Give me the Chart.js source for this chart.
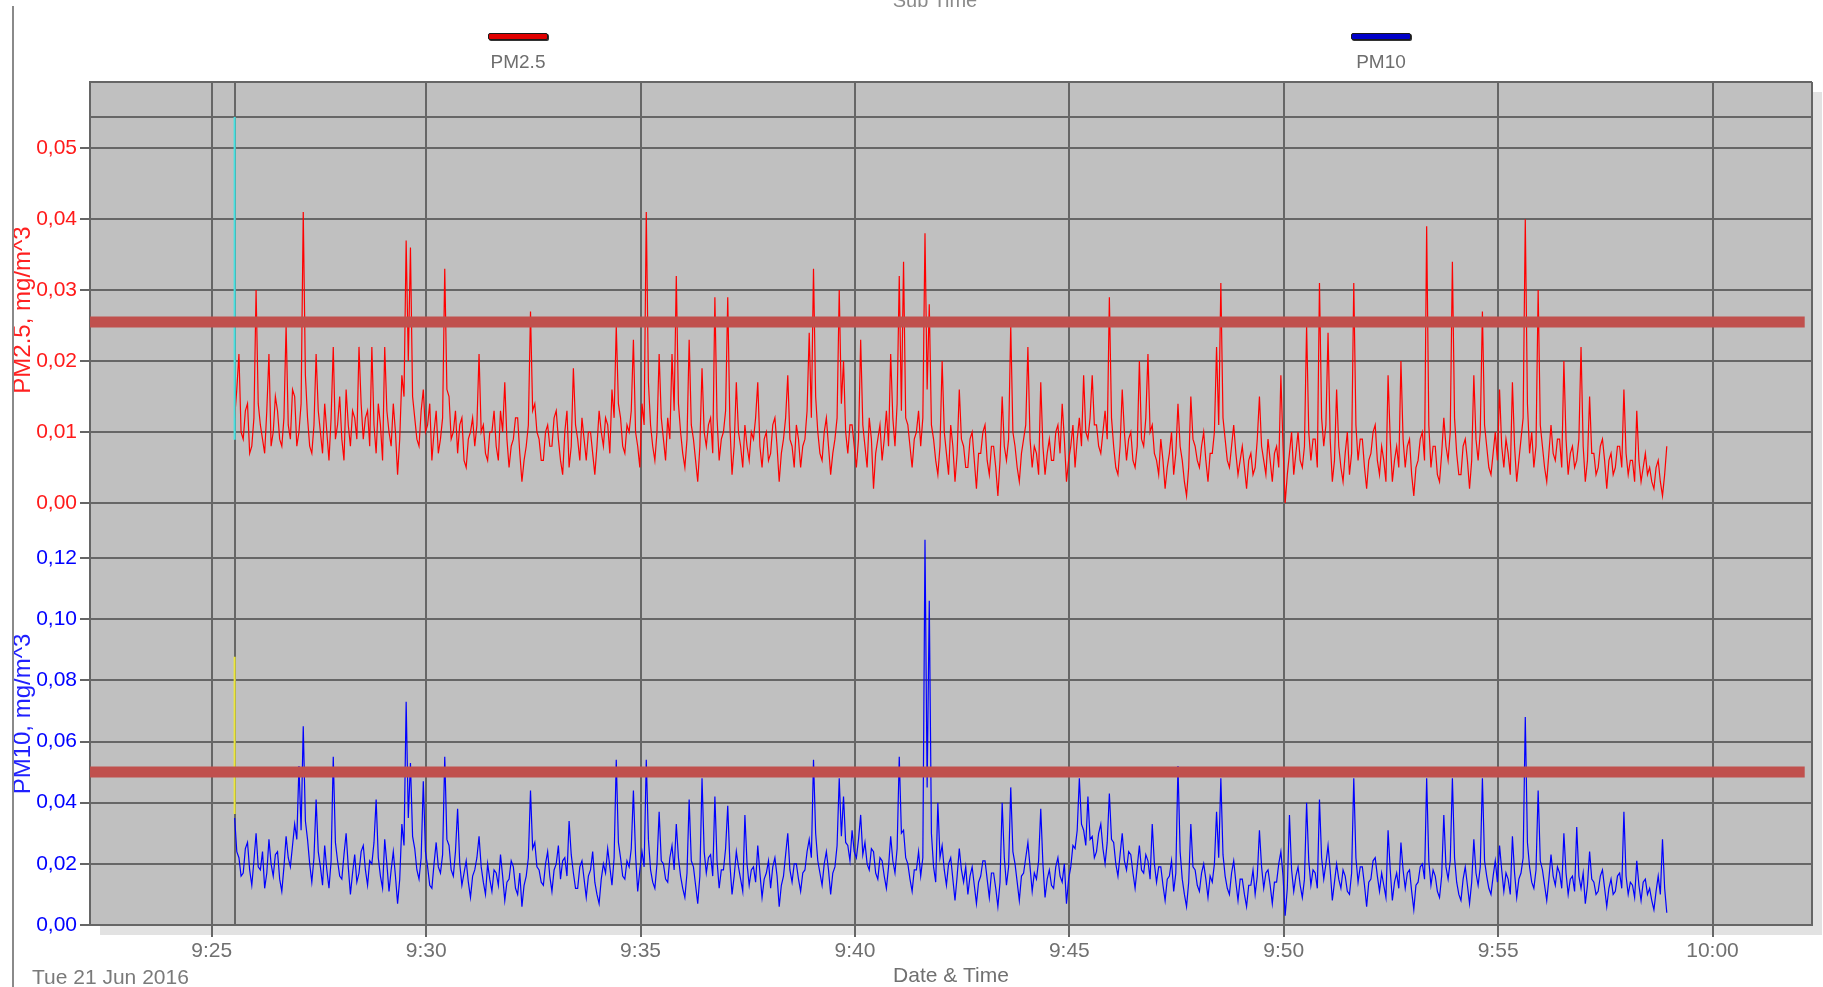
<!DOCTYPE html>
<html>
<head>
<meta charset="utf-8">
<title>PM2.5 / PM10</title>
<script src="https://cdn.jsdelivr.net/npm/chart.js@4.4.1/dist/chart.umd.min.js"></script>
<style>
  body { margin: 0; background: #fff; font-family: "Liberation Sans", Arial, sans-serif; }
  #wrap { position: relative; width: 1823px; height: 987px; overflow: hidden; }
  #frameLine { position: absolute; left: 12px; top: 6px; bottom: 0; width: 2px; background: #8a8a8a; }
  #subTitle { position: absolute; left: 880px; width: 110px; top: -11px; text-align: center; font-size: 20px; color: #8a8a8a; }
  .legItem { position: absolute; top: 33px; width: 90px; text-align: center; }
  .legLine { width: 58px; height: 5px; margin: 0 auto; border: 1px solid #1a1a1a; border-radius: 2px; box-shadow: 1px 1px 0 #333; }
  .legText { margin-top: 11px; font-size: 19px; color: #6e6e6e; }
  #dateText { position: absolute; left: 32px; top: 966px; font-size: 21px; line-height: 21px; color: #7a7a7a; }
  canvas { position: absolute; left: 0; top: 0; }
</style>
</head>
<body>
<div id="wrap">
  <canvas id="pmChart" width="1823" height="987"></canvas>
  <div id="frameLine"></div>
  <div id="subTitle">Sub Time</div>
  <div class="legItem" style="left:473px"><div class="legLine" style="background:#e00000"></div><div class="legText">PM2.5</div></div>
  <div class="legItem" style="left:1336px"><div class="legLine" style="background:#0000c8"></div><div class="legText">PM10</div></div>
  <div id="dateText">Tue 21 Jun 2016</div>
</div>
<script>
// minutes of the day, 9:25 = 565
var START_MIN = 565 + 32 / 60;   // first sample 9:25:32
var STEP_MIN = 0.05;             // one sample every 3 s
var X_MIN = 562.16, X_MAX = 602.32;
var X_TICKS = [565, 570, 575, 580, 585, 590, 595, 600];

var LIMIT_PM25 = 0.0255;
var LIMIT_PM10 = 0.05;
var LIMIT_END = 602.15;

// short coloured strokes at the first sample
var START_PM25 = [0.0544, 0.0089];
var START_PM10 = [0.0877, 0.0363];

// mg/m^3
var PM25 = [
  0.012,0.016, 0.021,0.010, 0.009,0.013, 0.014,0.007, 0.008,0.012, 0.030,0.014, 0.011,0.009, 0.007,0.013, 0.021,0.008, 0.010,0.015,
  0.013,0.009, 0.008,0.012, 0.025,0.011, 0.009,0.016, 0.015,0.008, 0.010,0.014, 0.041,0.018, 0.012,0.008, 0.007,0.011, 0.021,0.013,
  0.010,0.007, 0.014,0.010, 0.006,0.012, 0.022,0.009, 0.011,0.015, 0.009,0.006, 0.016,0.011, 0.008,0.013, 0.012,0.009, 0.022,0.014,
  0.009,0.012, 0.013,0.008, 0.022,0.011, 0.007,0.014, 0.011,0.006, 0.022,0.013, 0.010,0.008, 0.014,0.010, 0.004,0.009, 0.018,0.015,
  0.037,0.020, 0.036,0.015, 0.012,0.009, 0.008,0.013, 0.016,0.010, 0.011,0.014, 0.006,0.010, 0.013,0.007, 0.009,0.012, 0.033,0.016,
  0.015,0.009, 0.010,0.013, 0.007,0.011, 0.012,0.006, 0.005,0.009, 0.010,0.012, 0.008,0.011, 0.021,0.010, 0.011,0.007, 0.006,0.010,
  0.010,0.013, 0.008,0.006, 0.013,0.010, 0.017,0.009, 0.005,0.008, 0.009,0.012, 0.012,0.007, 0.003,0.006, 0.008,0.011, 0.027,0.013,
  0.014,0.010, 0.009,0.006, 0.006,0.010, 0.011,0.008, 0.008,0.012, 0.013,0.009, 0.006,0.004, 0.010,0.013, 0.005,0.008, 0.019,0.011,
  0.009,0.006, 0.012,0.009, 0.006,0.010, 0.010,0.007, 0.004,0.008, 0.013,0.010, 0.008,0.012, 0.011,0.007, 0.016,0.012, 0.025,0.014,
  0.012,0.008, 0.007,0.011, 0.010,0.013, 0.023,0.010, 0.008,0.005, 0.014,0.011, 0.041,0.017, 0.011,0.008, 0.006,0.010, 0.021,0.012,
  0.009,0.006, 0.012,0.009, 0.021,0.013, 0.032,0.014, 0.010,0.007, 0.005,0.009, 0.023,0.011, 0.009,0.006, 0.003,0.008, 0.019,0.010,
  0.008,0.011, 0.012,0.007, 0.029,0.012, 0.006,0.009, 0.010,0.013, 0.029,0.011, 0.004,0.008, 0.017,0.010, 0.008,0.005, 0.011,0.008,
  0.006,0.010, 0.009,0.012, 0.017,0.008, 0.005,0.009, 0.010,0.006, 0.007,0.011, 0.012,0.008, 0.003,0.007, 0.009,0.012, 0.018,0.009,
  0.008,0.005, 0.011,0.009, 0.005,0.008, 0.009,0.013, 0.024,0.012, 0.033,0.015, 0.010,0.007, 0.006,0.010, 0.012,0.008, 0.004,0.007,
  0.009,0.012, 0.030,0.014, 0.020,0.010, 0.007,0.011, 0.011,0.008, 0.005,0.009, 0.023,0.011, 0.008,0.005, 0.012,0.009, 0.002,0.007,
  0.009,0.011, 0.006,0.009, 0.013,0.008, 0.021,0.012, 0.008,0.014, 0.032,0.013, 0.034,0.012, 0.011,0.008, 0.005,0.009, 0.010,0.013,
  0.008,0.012, 0.038,0.016, 0.028,0.011, 0.009,0.006, 0.004,0.008, 0.020,0.010, 0.007,0.004, 0.011,0.008, 0.003,0.007, 0.016,0.009,
  0.008,0.005, 0.005,0.009, 0.010,0.006, 0.002,0.007, 0.007,0.010, 0.011,0.006, 0.004,0.008, 0.008,0.005, 0.001,0.006, 0.015,0.008,
  0.006,0.009, 0.025,0.010, 0.008,0.005, 0.003,0.007, 0.009,0.011, 0.022,0.009, 0.005,0.008, 0.007,0.004, 0.017,0.008, 0.004,0.007,
  0.009,0.006, 0.006,0.010, 0.011,0.007, 0.014,0.009, 0.003,0.006, 0.008,0.011, 0.005,0.009, 0.012,0.008, 0.018,0.010, 0.009,0.012,
  0.018,0.011, 0.011,0.008, 0.007,0.010, 0.013,0.009, 0.029,0.012, 0.008,0.005, 0.004,0.008, 0.016,0.010, 0.006,0.009, 0.010,0.006,
  0.005,0.008, 0.020,0.009, 0.008,0.012, 0.021,0.010, 0.011,0.007, 0.006,0.004, 0.009,0.006, 0.002,0.005, 0.007,0.010, 0.004,0.007,
  0.014,0.008, 0.006,0.003, 0.001,0.005, 0.015,0.009, 0.008,0.006, 0.005,0.008, 0.010,0.006, 0.003,0.007, 0.007,0.010, 0.022,0.011,
  0.031,0.012, 0.009,0.006, 0.005,0.008, 0.011,0.007, 0.004,0.006, 0.008,0.005, 0.002,0.006, 0.007,0.004, 0.005,0.009, 0.015,0.008,
  0.006,0.004, 0.009,0.006, 0.003,0.007, 0.008,0.005, 0.018,0.008, 0.000,0.004, 0.007,0.010, 0.004,0.007, 0.010,0.006, 0.005,0.008,
  0.025,0.010, 0.006,0.009, 0.009,0.005, 0.031,0.012, 0.008,0.011, 0.024,0.009, 0.003,0.006, 0.016,0.008, 0.005,0.003, 0.007,0.010,
  0.004,0.007, 0.031,0.011, 0.006,0.009, 0.009,0.005, 0.002,0.006, 0.007,0.010, 0.011,0.006, 0.004,0.008, 0.006,0.003, 0.018,0.009,
  0.003,0.006, 0.008,0.005, 0.020,0.009, 0.005,0.008, 0.009,0.004, 0.001,0.005, 0.006,0.009, 0.010,0.006, 0.039,0.011, 0.005,0.008,
  0.008,0.004, 0.003,0.007, 0.012,0.008, 0.006,0.010, 0.034,0.012, 0.007,0.004, 0.004,0.008, 0.009,0.006, 0.002,0.006, 0.018,0.009,
  0.006,0.010, 0.027,0.011, 0.008,0.005, 0.004,0.007, 0.010,0.006, 0.016,0.008, 0.005,0.009, 0.007,0.004, 0.017,0.008, 0.003,0.006,
  0.009,0.012, 0.040,0.014, 0.007,0.010, 0.005,0.008, 0.030,0.011, 0.008,0.005, 0.003,0.007, 0.011,0.007, 0.006,0.009, 0.009,0.005,
  0.020,0.009, 0.004,0.007, 0.008,0.005, 0.006,0.009, 0.022,0.008, 0.003,0.006, 0.015,0.007, 0.007,0.004, 0.005,0.008, 0.009,0.006,
  0.002,0.006, 0.007,0.004, 0.005,0.008, 0.008,0.005, 0.016,0.007, 0.004,0.006, 0.006,0.003, 0.013,0.006, 0.003,0.005, 0.007,0.004,
  0.005,0.003, 0.002,0.005, 0.006,0.003, 0.001,0.004, 0.008
];

var PM10 = [
  0.035,0.024, 0.022,0.016, 0.017,0.025, 0.027,0.018, 0.013,0.021, 0.030,0.019, 0.018,0.024, 0.012,0.017, 0.028,0.020, 0.016,0.023,
  0.024,0.015, 0.011,0.019, 0.029,0.022, 0.019,0.026, 0.033,0.028, 0.052,0.031, 0.065,0.034, 0.028,0.020, 0.014,0.022, 0.041,0.024,
  0.019,0.013, 0.026,0.018, 0.012,0.021, 0.055,0.027, 0.021,0.016, 0.015,0.023, 0.030,0.019, 0.010,0.017, 0.023,0.014, 0.017,0.024,
  0.026,0.018, 0.013,0.021, 0.020,0.027, 0.041,0.022, 0.016,0.012, 0.028,0.020, 0.011,0.018, 0.024,0.016, 0.007,0.015, 0.033,0.026,
  0.073,0.035, 0.053,0.029, 0.025,0.018, 0.015,0.022, 0.047,0.024, 0.019,0.013, 0.012,0.020, 0.027,0.019, 0.017,0.023, 0.055,0.028,
  0.026,0.018, 0.016,0.024, 0.038,0.020, 0.013,0.017, 0.021,0.014, 0.009,0.016, 0.018,0.022, 0.029,0.019, 0.014,0.010, 0.020,0.015,
  0.011,0.018, 0.017,0.013, 0.023,0.016, 0.008,0.014, 0.015,0.021, 0.019,0.012, 0.010,0.017, 0.006,0.013, 0.016,0.022, 0.044,0.025,
  0.027,0.019, 0.018,0.014, 0.013,0.020, 0.024,0.016, 0.011,0.018, 0.020,0.026, 0.015,0.021, 0.022,0.016, 0.034,0.023, 0.017,0.012,
  0.012,0.019, 0.021,0.015, 0.009,0.016, 0.018,0.024, 0.014,0.010, 0.007,0.015, 0.020,0.017, 0.025,0.019, 0.013,0.022, 0.054,0.027,
  0.022,0.016, 0.015,0.021, 0.019,0.025, 0.044,0.023, 0.011,0.018, 0.024,0.019, 0.054,0.028, 0.018,0.014, 0.012,0.020, 0.037,0.021,
  0.020,0.015, 0.014,0.022, 0.026,0.018, 0.033,0.022, 0.016,0.012, 0.009,0.017, 0.041,0.021, 0.019,0.013, 0.007,0.016, 0.048,0.024,
  0.017,0.022, 0.023,0.016, 0.042,0.021, 0.012,0.018, 0.018,0.025, 0.039,0.020, 0.010,0.016, 0.024,0.019, 0.015,0.011, 0.036,0.020,
  0.013,0.018, 0.019,0.014, 0.026,0.017, 0.009,0.015, 0.017,0.021, 0.012,0.019, 0.022,0.016, 0.006,0.013, 0.016,0.023, 0.030,0.018,
  0.014,0.020, 0.020,0.015, 0.011,0.017, 0.018,0.024, 0.028,0.022, 0.054,0.030, 0.021,0.017, 0.013,0.020, 0.024,0.018, 0.010,0.017,
  0.019,0.026, 0.048,0.029, 0.042,0.027, 0.026,0.021, 0.031,0.024, 0.022,0.028, 0.036,0.023, 0.027,0.020, 0.018,0.025, 0.024,0.017,
  0.015,0.022, 0.021,0.016, 0.012,0.019, 0.029,0.021, 0.017,0.025, 0.055,0.030, 0.031,0.022, 0.020,0.015, 0.011,0.018, 0.018,0.024,
  0.016,0.022, 0.126,0.045, 0.106,0.030, 0.019,0.014, 0.040,0.022, 0.026,0.018, 0.013,0.020, 0.022,0.015, 0.008,0.016, 0.025,0.018,
  0.014,0.019, 0.010,0.016, 0.019,0.013, 0.007,0.014, 0.016,0.021, 0.021,0.015, 0.009,0.017, 0.017,0.012, 0.006,0.014, 0.040,0.022,
  0.013,0.019, 0.045,0.024, 0.020,0.014, 0.008,0.016, 0.017,0.022, 0.027,0.019, 0.011,0.017, 0.015,0.021, 0.038,0.020, 0.009,0.015,
  0.018,0.013, 0.012,0.019, 0.022,0.016, 0.014,0.020, 0.007,0.015, 0.019,0.026, 0.025,0.031, 0.048,0.033, 0.031,0.026, 0.042,0.028,
  0.029,0.022, 0.024,0.030, 0.033,0.025, 0.020,0.027, 0.043,0.028, 0.027,0.020, 0.016,0.023, 0.030,0.021, 0.018,0.024, 0.023,0.017,
  0.012,0.019, 0.026,0.018, 0.017,0.023, 0.021,0.015, 0.033,0.020, 0.014,0.019, 0.019,0.013, 0.008,0.015, 0.016,0.021, 0.011,0.017,
  0.052,0.024, 0.015,0.010, 0.006,0.014, 0.033,0.019, 0.018,0.013, 0.011,0.017, 0.020,0.015, 0.009,0.016, 0.014,0.020, 0.037,0.022,
  0.048,0.023, 0.016,0.012, 0.010,0.017, 0.021,0.014, 0.008,0.015, 0.015,0.010, 0.006,0.013, 0.013,0.018, 0.010,0.016, 0.031,0.019,
  0.012,0.017, 0.018,0.013, 0.007,0.014, 0.014,0.020, 0.024,0.016, 0.003,0.012, 0.036,0.018, 0.011,0.016, 0.019,0.013, 0.009,0.015,
  0.040,0.021, 0.013,0.018, 0.017,0.012, 0.041,0.022, 0.015,0.020, 0.026,0.018, 0.008,0.014, 0.020,0.015, 0.012,0.018, 0.016,0.011,
  0.010,0.017, 0.048,0.022, 0.014,0.019, 0.019,0.013, 0.006,0.014, 0.015,0.021, 0.022,0.016, 0.011,0.017, 0.013,0.009, 0.031,0.018,
  0.008,0.014, 0.017,0.012, 0.027,0.018, 0.012,0.017, 0.018,0.011, 0.005,0.013, 0.014,0.019, 0.020,0.015, 0.048,0.021, 0.013,0.018,
  0.016,0.011, 0.009,0.016, 0.036,0.019, 0.015,0.021, 0.048,0.022, 0.014,0.010, 0.008,0.015, 0.019,0.013, 0.007,0.014, 0.028,0.017,
  0.013,0.019, 0.048,0.021, 0.016,0.012, 0.010,0.016, 0.021,0.014, 0.026,0.018, 0.011,0.017, 0.015,0.010, 0.029,0.017, 0.009,0.015,
  0.017,0.022, 0.068,0.027, 0.019,0.014, 0.012,0.018, 0.044,0.021, 0.018,0.013, 0.008,0.015, 0.023,0.016, 0.013,0.019, 0.017,0.012,
  0.030,0.017, 0.010,0.015, 0.016,0.011, 0.032,0.016, 0.012,0.017, 0.007,0.013, 0.024,0.015, 0.014,0.010, 0.011,0.016, 0.018,0.012,
  0.006,0.012, 0.015,0.010, 0.011,0.016, 0.017,0.012, 0.037,0.016, 0.010,0.014, 0.013,0.009, 0.021,0.013, 0.008,0.014, 0.015,0.010,
  0.012,0.008, 0.005,0.011, 0.016,0.010, 0.028,0.012, 0.004
];

var GRID = '#666666';
var times = PM25.map(function (v, i) { return START_MIN + i * STEP_MIN; });

function pairs(vals) {
  return vals.map(function (v, i) { return { x: times[i], y: v }; });
}
function fmtComma(v) { return v.toFixed(2).replace('.', ','); }
function isFive(v) { return Math.abs(v - Math.round(v)) < 1e-6 && Math.round(v) % 5 === 0; }
function fmtTime(v) {
  var h = Math.floor(v / 60), m = Math.round(v - h * 60);
  return h + ':' + (m < 10 ? '0' + m : m);
}

var plotBack = {
  id: 'plotBack',
  beforeDraw: function (chart) {
    var a = chart.chartArea, ctx = chart.ctx;
    ctx.save();
    ctx.fillStyle = '#e2e2e2';
    ctx.fillRect(a.left + 10, a.top + 10, a.right - a.left, a.bottom - a.top);
    ctx.fillStyle = '#c0c0c0';
    ctx.fillRect(a.left, a.top, a.right - a.left, a.bottom - a.top);
    ctx.restore();
  }
};

var ctx = document.getElementById('pmChart').getContext('2d');
var pmChart = new Chart(ctx, {
  type: 'line',
  data: {
    datasets: [
      { label: 'PM2.5 limit', data: [{ x: X_MIN, y: LIMIT_PM25 }, { x: LIMIT_END, y: LIMIT_PM25 }],
        yAxisID: 'y25', borderColor: 'rgb(192,80,77)', borderWidth: 11, pointRadius: 0, order: 0 },
      { label: 'PM10 limit', data: [{ x: X_MIN, y: LIMIT_PM10 }, { x: LIMIT_END, y: LIMIT_PM10 }],
        yAxisID: 'y10', borderColor: 'rgb(192,80,77)', borderWidth: 11, pointRadius: 0, order: 0 },
      { label: 'start25', data: [{ x: START_MIN, y: START_PM25[0] }, { x: START_MIN, y: START_PM25[1] }],
        yAxisID: 'y25', borderColor: 'rgb(70,225,225)', borderWidth: 2, pointRadius: 0, order: 1 },
      { label: 'start10', data: [{ x: START_MIN, y: START_PM10[0] }, { x: START_MIN, y: START_PM10[1] }],
        yAxisID: 'y10', borderColor: 'rgb(235,230,60)', borderWidth: 2, pointRadius: 0, order: 1 },
      { label: 'PM2.5', data: pairs(PM25), yAxisID: 'y25', borderColor: '#ff0000',
        borderWidth: 1.2, pointRadius: 0, tension: 0, order: 2 },
      { label: 'PM10', data: pairs(PM10), yAxisID: 'y10', borderColor: '#0000ff',
        borderWidth: 1.2, pointRadius: 0, tension: 0, order: 2 }
    ]
  },
  options: {
    responsive: false,
    animation: false,
    layout: { padding: { top: 82, right: 11, bottom: 0, left: 0 } },
    plugins: { legend: { display: false }, tooltip: { enabled: false } },
    scales: {
      x: {
        type: 'linear', min: X_MIN, max: X_MAX,
        afterBuildTicks: function (s) {
          s.ticks = X_TICKS.concat([START_MIN, X_MAX]).map(function (v) { return { value: v }; });
        },
        afterFit: function (s) { s.height = 62; },
        grid: {
          color: GRID, lineWidth: 2, tickLength: 12,
          tickColor: function (c) { return c.tick && isFive(c.tick.value) ? GRID : 'rgba(0,0,0,0)'; }
        },
        border: { color: GRID, width: 2 },
        ticks: {
          autoSkip: false, maxRotation: 0, padding: 2, color: '#707070',
          font: { family: 'Liberation Sans', size: 21 },
          callback: function (v) { return isFive(v) ? fmtTime(v) : ''; }
        },
        title: { display: true, text: 'Date & Time', color: '#707070',
          font: { family: 'Liberation Sans', size: 21, lineHeight: 1 }, padding: { top: 0, bottom: 0 } }
      },
      y10: {
        type: 'linear', position: 'left', stack: 'left', stackWeight: 422,
        min: 0, max: 0.138,
        afterFit: function (s) { s.width = 90; },
        grid: { color: GRID, lineWidth: 2, tickLength: 10 },
        border: { color: GRID, width: 2 },
        ticks: { stepSize: 0.02, includeBounds: false, padding: 3, color: '#0000ff',
          font: { family: 'Liberation Sans', size: 21 }, callback: fmtComma },
        title: { display: true, text: 'PM10, mg/m^3', color: '#2020ff',
          font: { family: 'Liberation Sans', size: 24, lineHeight: 1 }, padding: { top: 11, bottom: 0 } }
      },
      y25: {
        type: 'linear', position: 'left', stack: 'left', stackWeight: 386,
        min: 0, max: 0.0544,
        afterFit: function (s) { s.width = 90; },
        grid: { color: GRID, lineWidth: 2, tickLength: 10 },
        border: { color: GRID, width: 2 },
        ticks: { stepSize: 0.01, includeBounds: false, padding: 3, color: '#ff1a1a',
          font: { family: 'Liberation Sans', size: 21 }, callback: fmtComma },
        title: { display: true, text: 'PM2.5, mg/m^3', color: '#ff2020',
          font: { family: 'Liberation Sans', size: 24, lineHeight: 1 }, padding: { top: 11, bottom: 0 } }
      },
      ytop: {
        type: 'linear', position: 'left', stack: 'left', stackWeight: 35,
        min: 0, max: 1,
        afterBuildTicks: function (s) { s.ticks = [{ value: 0 }, { value: 1 }]; },
        afterFit: function (s) { s.width = 90; },
        grid: { color: GRID, lineWidth: 2, tickLength: 10, tickColor: 'rgba(0,0,0,0)' },
        border: { color: GRID, width: 2 },
        ticks: { callback: function () { return ''; } }
      }
    }
  },
  plugins: [plotBack]
});
</script>
</body>
</html>
